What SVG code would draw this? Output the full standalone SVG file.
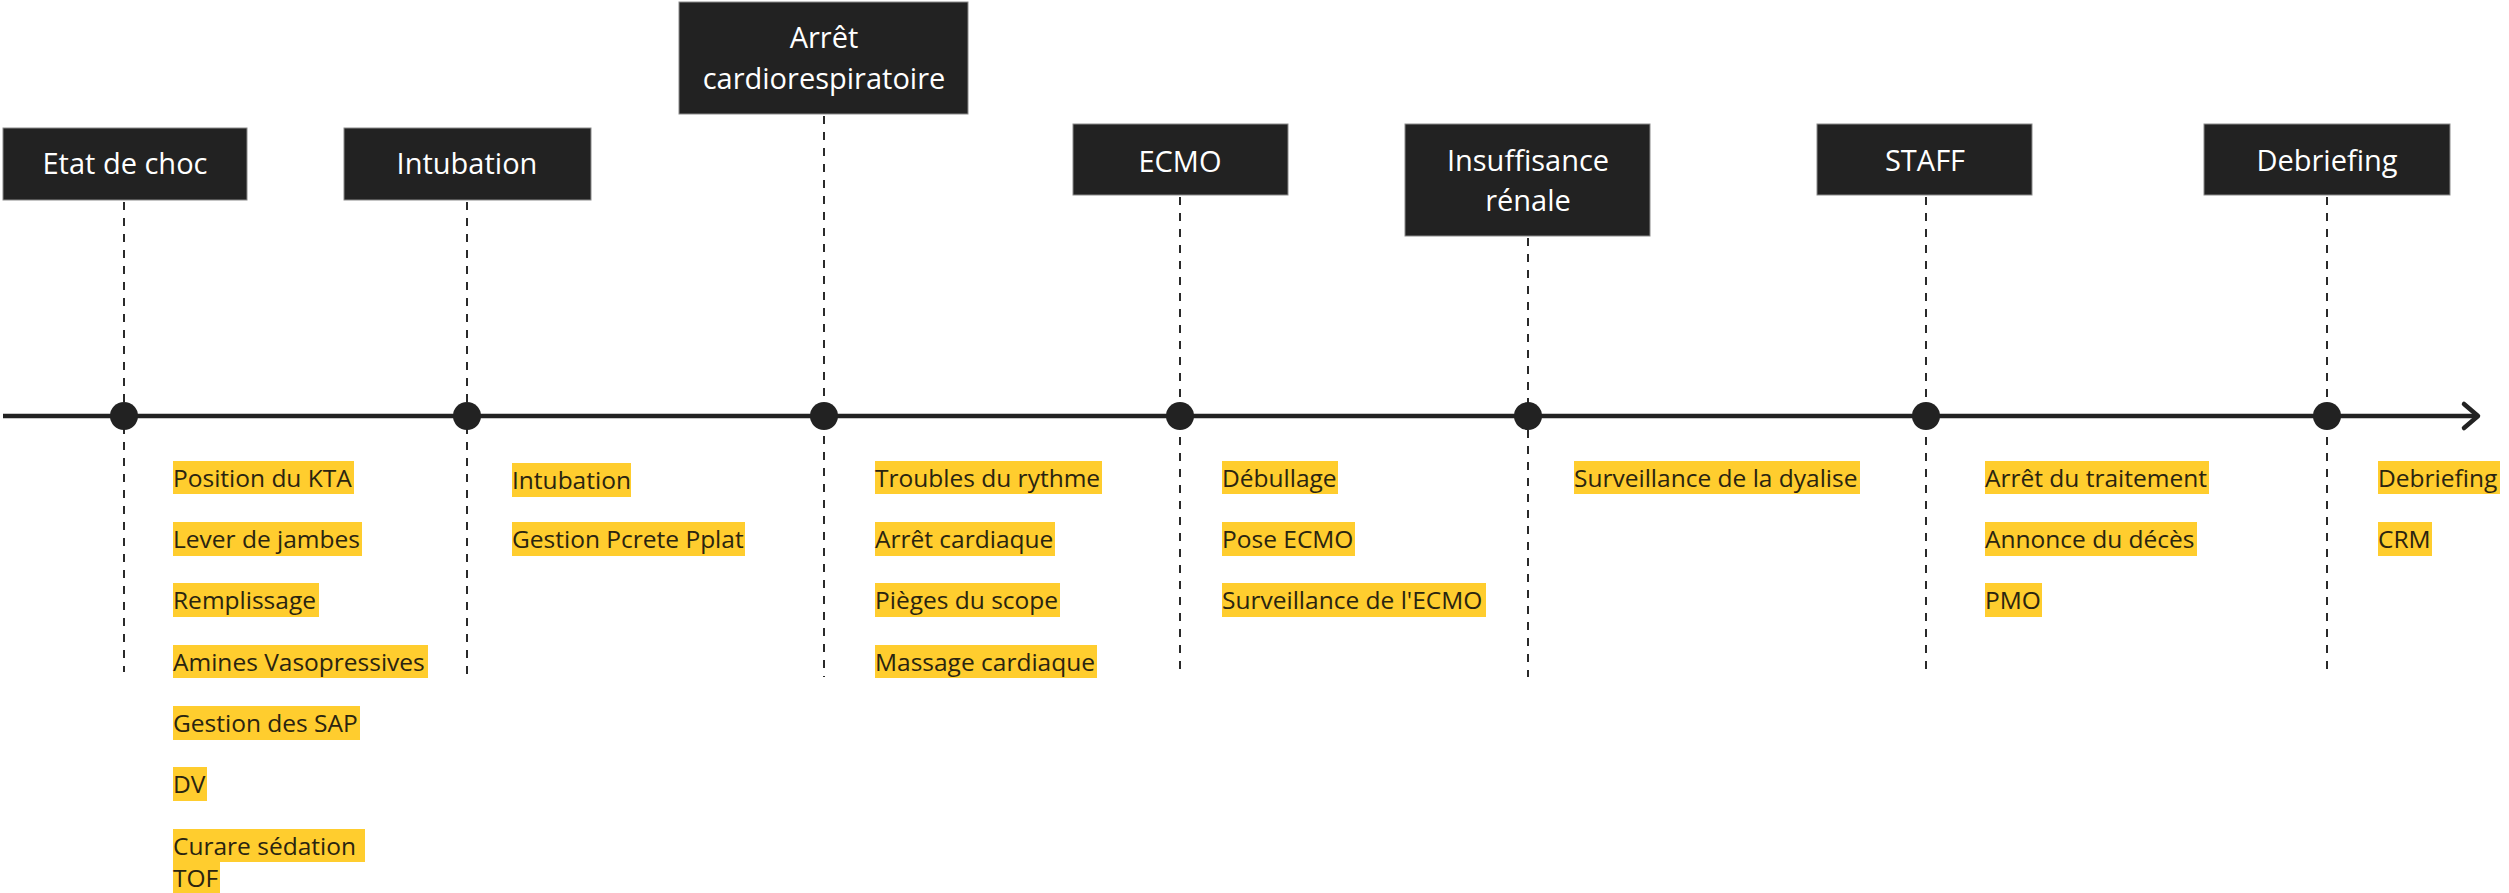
<svg xmlns="http://www.w3.org/2000/svg" width="2509" height="893" viewBox="0 0 2509 893">
<style>
.box{fill:#222222;stroke:#8a8a8a;stroke-width:1}
.ht{font-family:"Open Sans","Noto Sans",sans-serif;font-size:29px;fill:#ffffff;text-anchor:middle}
.dash{stroke:#2a2a2a;stroke-width:2;stroke-dasharray:8 8;fill:none}
.hl{fill:#FFCD2E}
.lt{font-family:"Open Sans","Noto Sans",sans-serif;font-size:24.5px;fill:#2a2410}
.dot{fill:#222222}
</style>
<rect width="2509" height="893" fill="#ffffff"/>
<g id="connectors">
<line class="dash" x1="124" y1="202" x2="124" y2="672"/>
<line class="dash" x1="467" y1="202" x2="467" y2="677"/>
<line class="dash" x1="824" y1="116" x2="824" y2="677"/>
<line class="dash" x1="1180" y1="197" x2="1180" y2="677"/>
<line class="dash" x1="1528" y1="238" x2="1528" y2="677"/>
<line class="dash" x1="1926" y1="197" x2="1926" y2="677"/>
<line class="dash" x1="2327" y1="197" x2="2327" y2="677"/>
<line x1="3" y1="416" x2="2477" y2="416" stroke="#222222" stroke-width="4.5"/>
<polyline points="2464,404 2478,416 2464,428" fill="none" stroke="#222222" stroke-width="4.5" stroke-linecap="round" stroke-linejoin="round"/>
<circle class="dot" cx="124" cy="416" r="14"/>
<circle class="dot" cx="467" cy="416" r="14"/>
<circle class="dot" cx="824" cy="416" r="14"/>
<circle class="dot" cx="1180" cy="416" r="14"/>
<circle class="dot" cx="1528" cy="416" r="14"/>
<circle class="dot" cx="1926" cy="416" r="14"/>
<circle class="dot" cx="2327" cy="416" r="14"/>
</g>
<g id="etat-de-choc">
<rect class="box" x="3" y="128" width="244" height="72"/>
<text class="ht" x="125" y="174">Etat de choc</text>
<rect class="hl" x="173" y="461" width="181" height="33"/><text class="lt" x="173" y="487">Position du KTA</text>
<rect class="hl" x="173" y="522" width="189" height="34"/><text class="lt" x="173" y="548">Lever de jambes</text>
<rect class="hl" x="173" y="583" width="146" height="34"/><text class="lt" x="173" y="609">Remplissage</text>
<rect class="hl" x="173" y="645" width="255" height="33"/><text class="lt" x="173" y="671">Amines Vasopressives</text>
<rect class="hl" x="173" y="706" width="187" height="34"/><text class="lt" x="173" y="732">Gestion des SAP</text>
<rect class="hl" x="173" y="767" width="34" height="34"/><text class="lt" x="173" y="793">DV</text>
<rect class="hl" x="173" y="829" width="192" height="33"/><rect class="hl" x="173" y="862" width="47" height="31"/>
<text class="lt" x="173" y="855">Curare sédation</text><text class="lt" x="173" y="887">TOF</text>
</g>
<g id="intubation">
<rect class="box" x="344" y="128" width="247" height="72"/>
<text class="ht" x="467" y="174">Intubation</text>
<rect class="hl" x="512" y="463" width="119" height="34"/><text class="lt" x="512" y="489">Intubation</text>
<rect class="hl" x="512" y="522" width="233" height="34"/><text class="lt" x="512" y="548">Gestion Pcrete Pplat</text>
</g>
<g id="arret-cardiorespiratoire">
<rect class="box" x="679" y="2" width="289" height="112"/>
<text class="ht" x="824" y="48">Arrêt</text>
<text class="ht" x="824" y="89">cardiorespiratoire</text>
<rect class="hl" x="875" y="461" width="227" height="33"/><text class="lt" x="875" y="487">Troubles du rythme</text>
<rect class="hl" x="875" y="522" width="180" height="34"/><text class="lt" x="875" y="548">Arrêt cardiaque</text>
<rect class="hl" x="875" y="583" width="185" height="34"/><text class="lt" x="875" y="609">Pièges du scope</text>
<rect class="hl" x="875" y="645" width="222" height="33"/><text class="lt" x="875" y="671">Massage cardiaque</text>
</g>
<g id="ecmo">
<rect class="box" x="1073" y="124" width="215" height="71"/>
<text class="ht" x="1180" y="172">ECMO</text>
<rect class="hl" x="1222" y="461" width="116" height="33"/><text class="lt" x="1222" y="487">Débullage</text>
<rect class="hl" x="1222" y="522" width="133" height="34"/><text class="lt" x="1222" y="548">Pose ECMO</text>
<rect class="hl" x="1222" y="583" width="264" height="34"/><text class="lt" x="1222" y="609">Surveillance de l'ECMO</text>
</g>
<g id="insuffisance-renale">
<rect class="box" x="1405" y="124" width="245" height="112"/>
<text class="ht" x="1528" y="171">Insuffisance</text>
<text class="ht" x="1528" y="211">rénale</text>
<rect class="hl" x="1574" y="461" width="286" height="33"/><text class="lt" x="1574" y="487">Surveillance de la dyalise</text>
</g>
<g id="staff">
<rect class="box" x="1817" y="124" width="215" height="71"/>
<text class="ht" x="1925" y="171">STAFF</text>
<rect class="hl" x="1985" y="461" width="224" height="33"/><text class="lt" x="1985" y="487">Arrêt du traitement</text>
<rect class="hl" x="1985" y="522" width="212" height="34"/><text class="lt" x="1985" y="548">Annonce du décès</text>
<rect class="hl" x="1985" y="583" width="57" height="34"/><text class="lt" x="1985" y="609">PMO</text>
</g>
<g id="debriefing">
<rect class="box" x="2204" y="124" width="246" height="71"/>
<text class="ht" x="2327" y="171">Debriefing</text>
<rect class="hl" x="2378" y="461" width="122" height="33"/><text class="lt" x="2378" y="487">Debriefing</text>
<rect class="hl" x="2378" y="522" width="54" height="34"/><text class="lt" x="2378" y="548">CRM</text>
</g>
</svg>
